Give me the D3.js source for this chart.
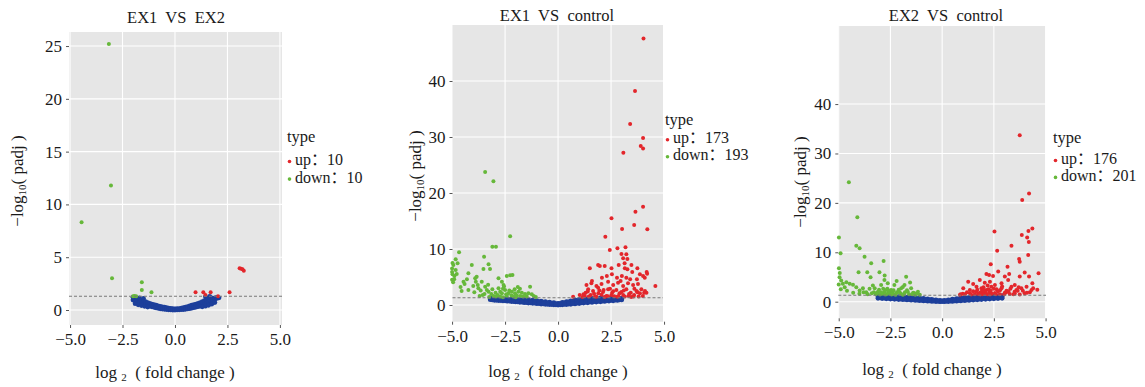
<!DOCTYPE html>
<html>
<head>
<meta charset="utf-8">
<script src="https://cdn.jsdelivr.net/npm/d3@7"></script>
<style>
  html, body { margin: 0; padding: 0; background: #fff; }
  svg text { fill: #1a1a1a; white-space: pre; }
</style>
</head>
<body>
<div id="chart"></div>
<script>
// ---- data (log2 fold change, -log10 padj) ----
const titles = ["EX1  VS  EX2", "EX1  VS  control", "EX2  VS  control"];
const upCounts = [10, 173, 176];
const downCounts = [10, 193, 201];
const xTicks = [-5, -2.5, 0, 2.5, 5];
const yTicks1 = [0, 5, 10, 15, 20, 25];
const yTicks2 = [0, 10, 20, 30, 40];
const yTicks3 = [0, 10, 20, 30, 40];
const padjLine = 1.3;

const up1 = [[3.08,3.95],[3.15,3.9],[3.22,3.85],[3.28,3.72],[0.98,1.67],[1.35,1.67],[1.45,1.42],[1.7,1.67],[2.6,1.67],[2.05,1.3]];
const down1 = [[-3.15,25.2],[-3.05,11.8],[-4.45,8.3],[-3.0,3.0],[-1.58,2.62],[-1.58,1.9],[-1.12,1.67],[-2.0,1.3],[-1.93,1.32],[-1.85,1.3]];
const ns1 = [[-2.0,1.2],[-2.0,0.95],[-1.95,1.1],[-1.9,1.15],[-1.9,0.85],[-1.8,1.05],[-1.8,0.75],[-1.7,1.0],[-1.7,0.7],[-1.7,1.15],
  [-1.6,0.95],[-1.6,0.62],[-1.5,0.85],[-1.5,0.55],[-1.5,1.1],[-1.4,0.8],[-1.4,0.48],[-1.3,0.7],[-1.3,0.42],[-1.2,0.62],[-1.2,0.36],
  [-1.1,0.55],[-1.1,0.3],[-1.0,0.5],[-1.0,0.25],[-0.9,0.45],[-0.9,0.2],[-0.8,0.4],[-0.8,0.16],[-0.7,0.35],[-0.7,0.12],[-0.6,0.3],
  [-0.6,0.09],[-0.5,0.26],[-0.5,0.06],[-0.4,0.22],[-0.4,0.04],[-0.3,0.18],[-0.3,0.02],[-0.2,0.15],[-0.2,0.01],[-0.1,0.12],[-0.1,0.0],
  [0.0,0.1],[0.0,0.0],[0.1,0.12],[0.1,0.01],[0.2,0.14],[0.2,0.02],[0.3,0.18],[0.3,0.03],[0.4,0.22],[0.4,0.05],[0.5,0.27],[0.5,0.07],
  [0.6,0.32],[0.6,0.1],[0.7,0.38],[0.7,0.13],[0.8,0.45],[0.8,0.17],[0.9,0.5],[0.9,0.22],[1.0,0.56],[1.0,0.27],[1.1,0.62],[1.1,0.32],
  [1.2,0.7],[1.2,0.38],[1.3,0.78],[1.3,0.45],[1.4,0.88],[1.4,0.52],[1.45,1.25],[1.5,0.98],[1.5,0.6],[1.6,1.1],[1.6,0.7],[1.65,1.28],
  [1.7,1.2],[1.7,0.85],[1.8,1.1],[1.8,0.95],[1.9,1.15],[1.9,1.0],[2.0,1.2],[2.0,1.1],[2.1,1.15],
  [-1.9,0.6],[-1.75,0.5],[-1.6,0.42],[-1.45,0.35],[-1.3,0.28],[1.3,0.3],[1.45,0.36],[1.6,0.45],[1.75,0.55],[1.9,0.7]];

const up2 = [[4.03,47.6],[3.63,38.2],[3.4,32.3],[4.01,29.8],[3.9,28.4],[4.01,27.96],[3.08,27.2],
  [4.01,17.56],[3.65,16.67],[2.52,15.48],[3.59,14.29],[3.02,13.57],[4.21,13.51],[2.23,12.2],[2.44,9.82],[2.8,10.12],[3.18,10.3],
  [2.99,9.1],[3.22,9.05],[3.07,8.33],[3.27,8.2],[1.5,6.55],[1.89,7.14],[1.97,6.96],[2.2,6.96],[2.52,6.55],[2.86,7.14],[3.14,7.44],
  [3.15,6.55],[3.27,6.37],[3.46,7.14],[3.74,6.55],[4.01,5.18],[4.09,4.88],[3.86,5.48],[4.59,3.39],
  [2.07,4.88],[2.3,5.18],[2.54,5.48],[2.78,4.88],[3.01,5.18],[3.22,4.88],[3.4,4.58],[3.72,4.58],
  [1.34,3.57],[1.57,3.87],[1.81,3.39],[2.05,3.75],[2.36,4.17],[2.6,3.57],[2.83,3.99],[3.07,3.39],[3.3,3.87],[3.54,3.57],[3.77,3.75],
  [1.42,2.8],[1.65,2.5],[1.89,3.1],[2.12,2.32],[2.36,2.8],[2.55,2.2],[2.75,2.68],[2.99,2.32],[3.22,2.8],[3.43,2.2],[3.7,2.5],[3.93,2.8],[4.17,2.2],
  [0.71,1.48],[1.02,1.79],[1.26,1.61],[1.54,1.79],[1.81,1.48],[2.05,1.85],[2.28,1.61],[2.52,1.79],[2.8,1.48],[3.07,1.79],[3.33,1.61],
  [3.59,1.79],[3.86,2.08],[4.06,2.2],[4.18,5.9],[4.2,5.6],[1.3,2.2],[1.15,1.45],[1.45,1.5],[1.7,2.0],[1.95,2.6],[2.2,1.45],[2.45,2.9],
  [2.65,1.55],[2.9,2.1],[3.15,1.5],[3.45,1.45],[3.6,2.9],[3.8,1.5],[4.0,1.6],[1.6,4.3],[2.95,4.3],[3.5,5.9],[4.1,2.5],
  [1.2,1.9],[1.4,2.4],[1.75,1.5],[1.9,2.1],[2.15,2.7],[2.35,1.55],[2.6,2.45],[2.85,1.6],[3.1,2.6],[3.35,1.95],[3.55,1.5],[3.75,2.3]];
const down2 = [[-3.44,23.75],[-3.05,22.1],[-2.26,12.3],[-3.1,10.4],[-2.93,10.4],[-4.67,9.4],[-4.83,8.16],[-3.49,8.63],[-4.74,7.44],
  [-4.94,7.14],[-3.28,7.26],[-4.07,7.14],[-3.52,6.43],[-3.21,6.43],[-4.83,6.25],[-4.78,5.54],[-4.89,5.18],[-4.23,5.66],[-3.84,5.06],
  [-2.42,5.2],[-2.26,5.3],[-2.15,5.36],[-2.81,4.76],[-2.65,4.17],[-2.57,3.57],[-4.95,4.05],[-4.46,4.17],[-4.41,3.75],[-3.91,4.76],
  [-3.88,4.17],[-3.79,3.57],[-3.76,2.98],[-3.6,4.17],[-4.23,2.68],[-3.44,3.27],[-3.36,2.68],[-3.47,1.96],[-3.28,2.38],[-3.15,1.96],
  [-3.05,1.6],[-2.93,1.5],[-2.81,2.98],[-2.73,2.38],[-2.65,2.08],[-2.5,2.68],[-2.34,2.08],[-2.18,2.38],[-2.03,2.08],[-1.87,2.38],
  [-1.71,2.2],[-1.56,1.96],[-1.32,3.27],[-1.24,1.9],[-1.79,1.6],[-2.73,1.5],[-2.42,1.67],[-2.1,1.5],[-1.48,1.5],
  [-4.9,4.6],[-5.0,5.9],[-4.6,3.2],[-4.0,3.4],[-3.95,2.3],[-3.65,2.6],[-3.55,1.8],[-3.3,3.6],[-3.1,2.8],[-2.95,2.2],[-2.85,1.8],
  [-2.6,2.9],[-2.45,1.9],[-2.3,2.6],[-2.2,1.7],[-2.05,2.8],[-1.95,1.7],[-1.8,2.9],[-1.65,1.5],[-1.4,2.1],[-1.15,1.6],[-1.05,1.45],
  [-4.3,4.6],[-4.55,2.5],[-3.7,1.6],[-3.25,1.45],[-2.6,1.4],[-2.0,1.4],[-1.9,3.2],[-2.55,3.3],[-4.98,7.5],[-5.0,6.5],[-4.98,5.5],[-5.0,4.5]];
const ns2 = [[-3.2,1.25],[-3.2,1.1],[-3.2,0.95],[-3.0,1.25],[-3.0,1.05],[-3.0,0.85],[-2.8,1.2],[-2.8,1.0],[-2.8,0.8],
  [-2.6,1.2],[-2.6,0.97],[-2.6,0.75],[-2.4,1.15],[-2.4,0.9],[-2.4,0.68],[-2.2,1.1],[-2.2,0.85],[-2.2,0.62],[-2.0,1.05],[-2.0,0.8],[-2.0,0.55],
  [-1.8,1.0],[-1.8,0.75],[-1.8,0.48],[-1.6,0.95],[-1.6,0.7],[-1.6,0.42],[-1.4,0.9],[-1.4,0.62],[-1.4,0.36],[-1.2,0.85],[-1.2,0.58],[-1.2,0.3],
  [-1.0,0.78],[-1.0,0.5],[-1.0,0.24],[-0.8,0.7],[-0.8,0.45],[-0.8,0.18],[-0.6,0.6],[-0.6,0.36],[-0.6,0.12],[-0.4,0.5],[-0.4,0.28],[-0.4,0.07],
  [-0.2,0.4],[-0.2,0.2],[-0.2,0.03],[0.0,0.3],[0.0,0.15],[0.0,0.0],[0.2,0.45],[0.2,0.22],[0.2,0.03],[0.4,0.6],[0.4,0.33],[0.4,0.08],
  [0.6,0.75],[0.6,0.45],[0.6,0.14],[0.8,0.9],[0.8,0.55],[0.8,0.2],[1.0,1.0],[1.0,0.62],[1.0,0.27],[1.2,1.1],[1.2,0.72],[1.2,0.34],
  [1.4,1.15],[1.4,0.78],[1.4,0.4],[1.6,1.2],[1.6,0.84],[1.6,0.46],[1.8,1.22],[1.8,0.88],[1.8,0.52],[2.0,1.25],[2.0,0.92],[2.0,0.58],
  [2.2,1.25],[2.2,0.95],[2.2,0.64],[2.4,1.25],[2.4,0.98],[2.4,0.7],[2.6,1.25],[2.6,1.0],[2.6,0.76],[2.8,1.25],[2.8,1.05],[2.8,0.82],
  [3.0,1.2],[3.0,1.05],[3.0,0.9],
  [-3.1,1.15],[-3.1,0.9],[-2.9,1.1],[-2.9,0.85],[-2.7,1.08],[-2.7,0.8],[-2.5,1.05],[-2.5,0.75],[-2.3,1.0],[-2.3,0.7],[-2.1,0.95],[-2.1,0.62],
  [-1.9,0.9],[-1.9,0.56],[-1.7,0.85],[-1.7,0.5],[-1.5,0.8],[-1.5,0.44],[-1.3,0.75],[-1.3,0.38],[-1.1,0.68],[-1.1,0.32],[-0.9,0.6],[-0.9,0.26],
  [-0.7,0.52],[-0.7,0.2],[-0.5,0.42],[-0.5,0.14],[-0.3,0.34],[-0.3,0.08],[-0.1,0.25],[-0.1,0.04],[0.1,0.3],[0.1,0.05],[0.3,0.42],[0.3,0.1],
  [0.5,0.55],[0.5,0.18],[0.7,0.68],[0.7,0.25],[0.9,0.78],[0.9,0.32],[1.1,0.88],[1.1,0.4],[1.3,0.95],[1.3,0.48],[1.5,1.0],[1.5,0.55],
  [1.7,1.05],[1.7,0.6],[1.9,1.1],[1.9,0.66],[2.1,1.12],[2.1,0.72],[2.3,1.15],[2.3,0.78],[2.5,1.18],[2.5,0.82],[2.7,1.2],[2.7,0.88],[2.9,1.2],[2.9,0.92]];

const up3 = [[3.75,33.7],[4.2,21.9],[3.87,20.6],[4.36,14.8],[4.17,14.3],[3.85,13.5],[2.53,14.2],[3.35,11.3],[4.11,13.0],[4.19,12.1],
  [2.66,10.3],[4.16,9.45],[2.35,7.57],[3.72,8.64],[3.75,8.1],[4.66,5.75],[3.16,7.09],
  [2.14,5.6],[2.27,5.4],[2.46,5.2],[2.71,6.1],[3.03,5.1],[3.24,5.6],[3.75,5.1],[3.99,5.9],[4.2,5.1],
  [4.36,3.72],[3.51,3.38],[3.19,4.39],[2.87,3.72],[2.55,3.38],[2.31,4.05],[2.06,3.85],[1.82,4.39],[1.5,3.58],[1.26,4.05],
  [1.02,2.71],[1.34,2.37],[1.66,3.05],[1.9,2.71],[2.14,2.37],[2.38,3.05],[2.63,2.5],[2.87,2.71],[3.11,2.23],[3.35,3.05],[3.59,2.37],
  [3.83,2.71],[4.08,3.05],[4.32,2.37],[0.86,1.4],[1.1,1.5],[1.34,1.7],[1.58,1.5],[1.82,1.8],[2.06,1.6],[2.31,1.45],[2.55,1.75],
  [2.79,1.5],[3.03,1.8],[3.27,1.55],[3.51,1.65],[3.75,1.45],[3.99,1.7],[4.24,1.9],[1.2,1.9],[1.5,2.1],[1.7,2.4],[1.9,2.0],[2.0,2.9],
  [2.1,2.2],[2.2,3.3],[2.3,2.0],[2.5,2.6],[2.7,2.1],[2.9,3.1],[3.1,1.9],[3.3,2.6],[3.5,2.0],[3.7,2.9],[3.9,2.2],[4.1,1.8],[4.4,2.7],
  [4.6,2.4],[1.0,1.6],[0.9,1.5],[1.95,1.5],[2.05,1.9],[2.15,1.55],[2.25,2.5],[2.4,1.6],[1.75,1.55],
  [1.4,1.45],[1.65,2.0],[1.85,1.45],[2.0,2.3],[2.2,1.5],[2.35,2.2],[2.6,1.5],[2.8,2.3],[3.0,1.5],[3.2,2.1],[3.45,1.5],[3.65,2.2]];
const down3 = [[-4.51,24.2],[-4.1,17.08],[-4.99,13.0],[-4.15,11.3],[-3.99,10.8],[-4.91,9.8],[-3.75,9.1],[-2.83,8.24],[-4.99,6.76],
  [-4.04,5.95],[-3.43,7.77],[-3.46,4.97],[-3.62,5.98],[-3.03,5.98],[-2.78,5.3],[-4.96,4.97],[-4.88,4.29],[-4.8,3.62],[-4.71,2.94],
  [-4.63,3.95],[-4.47,3.62],[-4.31,3.41],[-4.15,2.94],[-3.99,2.26],[-3.83,2.74],[-3.67,1.93],[-3.51,2.6],[-3.35,3.28],
  [-3.26,2.7],[-3.1,2.02],[-2.95,3.38],[-2.79,4.39],[-2.63,3.72],[-2.47,2.37],[-2.31,3.38],[-2.14,2.02],[-1.98,2.7],[-1.82,3.38],
  [-1.74,5.06],[-1.66,2.02],[-1.5,2.7],[-1.33,1.7],[-1.17,2.02],[-1.08,1.4],[-2.9,1.6],[-2.8,1.9],[-2.7,1.5],[-2.6,1.8],[-2.5,1.6],
  [-2.4,2.0],[-2.3,1.5],[-2.2,1.8],[-2.0,1.6],[-1.9,1.4],[-1.8,1.9],[-1.6,1.5],[-1.4,1.8],[-1.3,1.4],[-1.2,1.6],[-3.2,1.5],[-3.4,1.7],
  [-3.6,1.5],[-3.8,1.9],[-4.0,1.6],[-4.3,1.8],[-4.6,2.2],[-4.9,2.5],[-5.0,3.5],[-4.95,5.8],[-2.75,2.3],[-2.65,2.6],[-2.55,2.1],
  [-2.85,2.6],[-3.0,1.45],[-2.1,2.4],[-1.55,3.9],[-1.9,3.0],[-2.2,4.2],[-3.15,1.8],
  [-2.95,1.9],[-2.75,1.45],[-2.6,2.2],[-2.45,1.45],[-2.35,2.3],[-2.25,1.4],[-2.05,1.9],[-1.85,1.5],[-1.7,2.3],[-1.45,1.5],[-3.05,2.4],[-3.3,1.9]];
const ns3 = [[-3.1,1.2],[-3.1,0.95],[-3.1,0.7],[-2.9,1.2],[-2.9,0.9],[-2.9,0.65],[-2.7,1.15],[-2.7,0.85],[-2.7,0.6],
  [-2.5,1.1],[-2.5,0.8],[-2.5,0.55],[-2.3,1.05],[-2.3,0.75],[-2.3,0.5],[-2.1,1.0],[-2.1,0.7],[-2.1,0.45],[-1.9,0.95],[-1.9,0.65],[-1.9,0.4],
  [-1.7,0.9],[-1.7,0.6],[-1.7,0.35],[-1.5,0.85],[-1.5,0.55],[-1.5,0.3],[-1.3,0.8],[-1.3,0.5],[-1.3,0.25],[-1.1,0.75],[-1.1,0.45],[-1.1,0.2],
  [-0.9,0.65],[-0.9,0.38],[-0.9,0.15],[-0.7,0.55],[-0.7,0.3],[-0.7,0.1],[-0.5,0.45],[-0.5,0.22],[-0.5,0.05],[-0.3,0.35],[-0.3,0.15],[-0.3,0.02],
  [-0.1,0.25],[-0.1,0.1],[-0.1,0.0],[0.1,0.28],[0.1,0.12],[0.1,0.0],[0.3,0.38],[0.3,0.18],[0.3,0.03],[0.5,0.5],[0.5,0.25],[0.5,0.06],
  [0.7,0.6],[0.7,0.32],[0.7,0.1],[0.9,0.7],[0.9,0.4],[0.9,0.15],[1.1,0.8],[1.1,0.48],[1.1,0.2],[1.3,0.88],[1.3,0.55],[1.3,0.26],
  [1.5,0.95],[1.5,0.6],[1.5,0.32],[1.7,1.0],[1.7,0.66],[1.7,0.38],[1.9,1.05],[1.9,0.72],[1.9,0.44],[2.1,1.1],[2.1,0.78],[2.1,0.5],
  [2.3,1.12],[2.3,0.82],[2.3,0.55],[2.5,1.15],[2.5,0.86],[2.5,0.6],[2.7,1.18],[2.7,0.9],[2.7,0.65],[2.9,1.2],[2.9,0.95],[2.9,0.7],
  [-3.0,1.05],[-3.0,0.8],[-2.8,1.02],[-2.8,0.75],[-2.6,0.98],[-2.6,0.7],[-2.4,0.92],[-2.4,0.65],[-2.2,0.88],[-2.2,0.6],[-2.0,0.84],[-2.0,0.55],
  [-1.8,0.8],[-1.8,0.5],[-1.6,0.72],[-1.6,0.45],[-1.4,0.68],[-1.4,0.4],[-1.2,0.62],[-1.2,0.34],[-1.0,0.55],[-1.0,0.28],[-0.8,0.48],[-0.8,0.22],
  [-0.6,0.4],[-0.6,0.16],[-0.4,0.3],[-0.4,0.1],[-0.2,0.2],[-0.2,0.05],[0.0,0.15],[0.0,0.02],[0.2,0.22],[0.2,0.06],[0.4,0.32],[0.4,0.1],
  [0.6,0.42],[0.6,0.16],[0.8,0.55],[0.8,0.22],[1.0,0.65],[1.0,0.3],[1.2,0.72],[1.2,0.36],[1.4,0.78],[1.4,0.42],[1.6,0.84],[1.6,0.48],
  [1.8,0.9],[1.8,0.55],[2.0,0.95],[2.0,0.62],[2.2,1.0],[2.2,0.66],[2.4,1.02],[2.4,0.72],[2.6,1.05],[2.6,0.76],[2.8,1.1],[2.8,0.82]];

// ---- pick a serif face that is really installed ----
function hasFont(name) {
  const ctx = document.createElement("canvas").getContext("2d");
  const sample = "EX1 VS control log fold change 0123456789";
  ctx.font = "40px monospace";
  const base = ctx.measureText(sample).width;
  ctx.font = '40px "' + name + '", monospace';
  return ctx.measureText(sample).width !== base;
}
const serifCandidates = ["Liberation Serif", "Times New Roman", "Tinos", "DejaVu Serif", "Noto Serif", "FreeSerif", "Nimbus Roman", "Noto Serif CJK SC"];
const serifFace = serifCandidates.find(hasFont);
const fontStack = (serifFace ? '"' + serifFace + '", ' : "") + 'serif, "Noto Sans CJK SC"';

// ---- layout ----
const W = 1145, H = 387;
const colors = { up: "#e3262b", down: "#66b83a", ns: "#1d3f9b" };

const panels = [
  { title: titles[0], up: up1, down: down1, ns: ns1, yTicks: yTicks1, nUp: upCounts[0], nDown: downCounts[0],
    l: 69, r: 282, t: 32, b: 325, xDom: [-5.05, 5.1], yDom: [-1.42, 26.33],
    titleX: 176, titleY: 23, xLabX: 165, xLabY: 378, yLabX: 23, yLabY: 181,
    leg: { x: 287, y: 141.7, first: 23.3, gap: 17.6 } },
  { title: titles[1], up: up2, down: down2, ns: ns2, yTicks: yTicks2, nUp: upCounts[1], nDown: downCounts[1],
    l: 452.5, r: 663, t: 25, b: 321.7, xDom: [-4.98, 4.95], yDom: [-2.98, 50.0],
    titleX: 557, titleY: 21, xLabX: 558, xLabY: 377, yLabX: 421, yLabY: 176,
    leg: { x: 665, y: 125, first: 18.3, gap: 16.9 } },
  { title: titles[2], up: up3, down: down3, ns: ns3, yTicks: yTicks3, nUp: upCounts[2], nDown: downCounts[2],
    l: 838.3, r: 1046, t: 26, b: 318.3, xDom: [-5.02, 5.02], yDom: [-3.36, 55.8],
    titleX: 946, titleY: 21, xLabX: 932, xLabY: 375, yLabX: 806, yLabY: 182,
    leg: { x: 1053, y: 143.3, first: 20.7, gap: 16.9 } }
];

const svg = d3.select("#chart").append("svg")
  .attr("width", W).attr("height", H)
  .style("font-family", fontStack);

panels.forEach(p => {
  const x = d3.scaleLinear().domain(p.xDom).range([p.l, p.r]);
  const y = d3.scaleLinear().domain(p.yDom).range([p.b, p.t]);
  const g = svg.append("g");

  // panel background
  g.append("rect")
    .attr("x", p.l).attr("y", p.t)
    .attr("width", p.r - p.l).attr("height", p.b - p.t)
    .attr("fill", "#e6e6e6");

  // grid
  g.selectAll(".vg").data(xTicks.filter(d => x(d) > p.l && x(d) < p.r)).enter().append("line")
    .attr("x1", d => x(d)).attr("x2", d => x(d))
    .attr("y1", p.t).attr("y2", p.b)
    .attr("stroke", "#fff").attr("stroke-width", 1.1);
  g.selectAll(".hg").data(p.yTicks).enter().append("line")
    .attr("x1", p.l).attr("x2", p.r)
    .attr("y1", d => y(d)).attr("y2", d => y(d))
    .attr("stroke", "#fff").attr("stroke-width", 1.1);

  // points
  const pts = g.append("g");
  pts.selectAll(".ns").data(p.ns).enter().append("circle")
    .attr("cx", d => x(d[0])).attr("cy", d => y(d[1])).attr("r", 2.4)
    .attr("fill", colors.ns);
  pts.selectAll(".dn").data(p.down).enter().append("circle")
    .attr("cx", d => x(d[0])).attr("cy", d => y(d[1])).attr("r", 2)
    .attr("fill", colors.down);
  pts.selectAll(".upp").data(p.up).enter().append("circle")
    .attr("cx", d => x(d[0])).attr("cy", d => y(d[1])).attr("r", 2)
    .attr("fill", colors.up);

  // padj threshold
  g.append("line")
    .attr("x1", p.l).attr("x2", p.r)
    .attr("y1", y(padjLine)).attr("y2", y(padjLine))
    .attr("stroke", "#7a7a7a").attr("stroke-width", 1.1)
    .attr("stroke-dasharray", "3,2");

  // axes
  const xAxis = g.append("g")
    .attr("transform", "translate(0," + p.b + ")")
    .call(d3.axisBottom(x).tickValues(xTicks).tickFormat(d3.format(".1f")).tickSize(3).tickPadding(5));
  const yAxis = g.append("g")
    .attr("transform", "translate(" + p.l + ",0)")
    .call(d3.axisLeft(y).tickValues(p.yTicks).tickFormat(d3.format("d")).tickSize(3).tickPadding(4));
  [xAxis, yAxis].forEach(a => {
    a.attr("font-family", null);
    a.select(".domain").remove();
    a.selectAll(".tick line").attr("stroke", "#555");
    a.selectAll("text").attr("font-size", 17).attr("fill", "#1a1a1a");
  });

  // title
  g.append("text")
    .attr("x", p.titleX).attr("y", p.titleY)
    .attr("text-anchor", "middle").attr("font-size", 16.5)
    .text(p.title);

  // x axis label
  const xl = g.append("text")
    .attr("x", p.xLabX).attr("y", p.xLabY)
    .attr("text-anchor", "middle").attr("font-size", 17);
  xl.append("tspan").text("log ");
  xl.append("tspan").attr("font-size", 11).attr("dy", 3).text("2");
  xl.append("tspan").attr("dy", -3).text("  ( fold change )");

  // y axis label
  const yl = g.append("text")
    .attr("transform", "translate(" + p.yLabX + "," + p.yLabY + ") rotate(-90)")
    .attr("text-anchor", "middle").attr("font-size", 17);
  yl.append("tspan").text("−log");
  yl.append("tspan").attr("font-size", 11).attr("dy", 3).text("10");
  yl.append("tspan").attr("dy", -3).text("( padj )");

  // legend
  const lg = g.append("g");
  lg.append("text").attr("x", p.leg.x).attr("y", p.leg.y)
    .attr("font-size", 16.5).text("type");
  const rows = [
    { label: "up：" + p.nUp, color: colors.up },
    { label: "down：" + p.nDown, color: colors.down }
  ];
  rows.forEach((row, i) => {
    const by = p.leg.y + p.leg.first + i * p.leg.gap;
    lg.append("circle").attr("cx", p.leg.x + 2.5).attr("cy", by - 3.5)
      .attr("r", 1.8).attr("fill", row.color);
    lg.append("text").attr("x", p.leg.x + 8).attr("y", by)
      .attr("font-size", 16).text(row.label);
  });
});
</script>
</body>
</html>
